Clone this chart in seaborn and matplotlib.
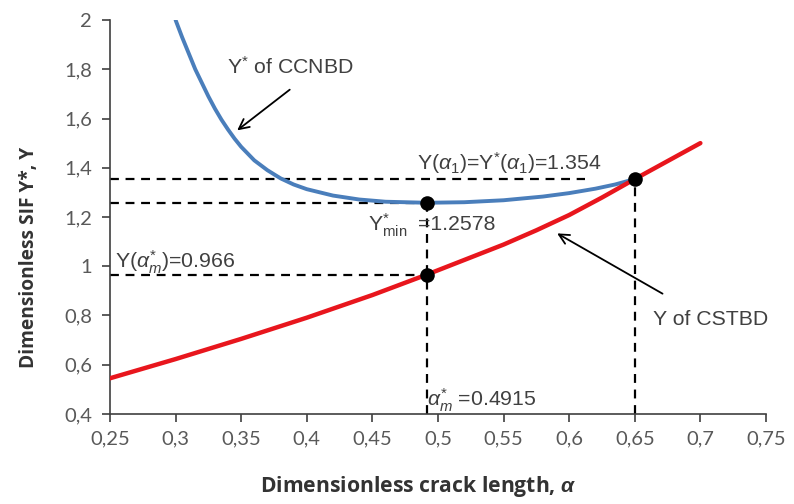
import matplotlib
matplotlib.use("Agg")
import matplotlib.pyplot as plt
import seaborn as sns
import pandas as pd

# ---- data ----
alpha_ccnbd = [0.300, 0.305, 0.310, 0.315, 0.320, 0.325, 0.330, 0.335, 0.340, 0.345, 0.350,
               0.360, 0.370, 0.380, 0.390, 0.400, 0.420, 0.440, 0.460, 0.4915, 0.520,
               0.550, 0.580, 0.600, 0.620, 0.635, 0.650]
y_ccnbd = [2.000, 1.930, 1.865, 1.800, 1.745, 1.690, 1.640, 1.595, 1.555, 1.518, 1.485,
           1.430, 1.390, 1.357, 1.332, 1.313, 1.287, 1.271, 1.262, 1.2578, 1.260,
           1.268, 1.283, 1.297, 1.315, 1.332, 1.354]

alpha_cstbd = [0.25, 0.30, 0.35, 0.40, 0.45, 0.4915, 0.55, 0.575, 0.60, 0.625, 0.65, 0.70]
y_cstbd = [0.545, 0.623, 0.705, 0.791, 0.883, 0.966, 1.088, 1.146, 1.208, 1.279, 1.354, 1.50]

alpha_m = 0.4915
y_min = 1.2578
y_alpha_m = 0.966
alpha_1 = 0.65
y_alpha_1 = 1.354

x_ticks = [0.25, 0.30, 0.35, 0.40, 0.45, 0.50, 0.55, 0.60, 0.65, 0.70, 0.75]
x_ticklabels = ["0,25", "0,3", "0,35", "0,4", "0,45", "0,5", "0,55", "0,6", "0,65", "0,7", "0,75"]
y_ticks = [0.4, 0.6, 0.8, 1.0, 1.2, 1.4, 1.6, 1.8, 2.0]
y_ticklabels = ["0,4", "0,6", "0,8", "1", "1,2", "1,4", "1,6", "1,8", "2"]

sns.set_style("ticks")
plt.rcParams["font.family"] = ["Lato", "DejaVu Sans"]
plt.rcParams["mathtext.fontset"] = "custom"
plt.rcParams["mathtext.rm"] = "Liberation Sans"
plt.rcParams["mathtext.it"] = "Liberation Sans:italic"
plt.rcParams["mathtext.bf"] = "Liberation Sans:bold"
plt.rcParams["mathtext.bfit"] = "Liberation Sans:italic:bold"

fig = plt.figure(figsize=(7.94, 5.04), dpi=100)
ax = fig.add_axes([0.1385, 0.1786, 0.8262, 0.7817])

df_c = pd.DataFrame({"alpha": alpha_ccnbd, "Y": y_ccnbd})
df_s = pd.DataFrame({"alpha": alpha_cstbd, "Y": y_cstbd})

dash_kw = dict(color="black", linestyle=(0, (4, 3)), linewidth=1.6, zorder=2)
# dashed guide lines
ax.plot([0.25, 0.612], [y_alpha_1, y_alpha_1], **dash_kw)
ax.plot([0.25, alpha_m], [y_min, y_min], **dash_kw)
ax.plot([0.25, alpha_m], [y_alpha_m, y_alpha_m], **dash_kw)
ax.plot([alpha_m, alpha_m], [0.4, y_min], **dash_kw)
ax.plot([alpha_1, alpha_1], [0.4, y_alpha_1], **dash_kw)

sns.lineplot(data=df_c, x="alpha", y="Y", ax=ax, color="#4a7ebb", linewidth=2.8, zorder=3)
sns.lineplot(data=df_s, x="alpha", y="Y", ax=ax, color="#e8161d", linewidth=3.2, zorder=3)

ax.scatter([alpha_m, alpha_m, alpha_1], [y_min, y_alpha_m, y_alpha_1],
           s=110, color="black", zorder=5, linewidths=0)

ax.set_xlim(0.25, 0.75)
ax.set_ylim(0.4, 2.0)
ax.set_xticks(x_ticks)
ax.set_xticklabels(x_ticklabels)
ax.set_yticks(y_ticks)
ax.set_yticklabels(y_ticklabels)
ax.tick_params(axis="both", direction="out", length=6, width=1.2, color="#404040",
               labelsize=14.5, labelcolor="#595959")
ax.tick_params(axis="y", pad=7)
ax.tick_params(axis="x", pad=6)
sns.despine(ax=ax)
for s in ["left", "bottom"]:
    ax.spines[s].set_color("#404040")
    ax.spines[s].set_linewidth(1.2)

ax.set_xlabel(r"Dimensionless crack length, $\mathbfit{\alpha}$", fontfamily="Open Sans",
              fontweight="bold", fontsize=15.2, color="#333333")
ax.set_ylabel("Dimensionless SIF Y*, Y", fontfamily="Open Sans",
              fontweight="bold", fontsize=13.8, color="#333333")
ax.xaxis.set_label_coords(0.47, -0.153)
ax.yaxis.set_label_coords(-0.108, 0.398)

tk = dict(fontfamily="Liberation Sans", fontsize=15.3, color="#404040", va="center", ha="left")
ax.text(0.339, 1.809, r"Y$^{*}$ of CCNBD", **tk)
ax.text(0.484, 1.419, r"Y($\alpha_1$)=Y$^{*}$($\alpha_1$)=1.354", **tk)
ax.text(0.4764, 1.1675, r"Y$^{*}_{\rm min}$", **{**tk, "ha": "right"})
ax.text(0.4848, 1.1675, "=1.2578", **tk)
ax.text(0.254, 1.017, r"Y($\alpha^{*}_{m}$)=0.966", **tk)
ax.text(0.4916, 0.457, r"$\alpha^{*}_{m}$ =0.4915", **tk)
ax.text(0.664, 0.782, "Y of CSTBD", **tk)

arrow_kw = dict(arrowstyle="->", color="black", lw=1.3, mutation_scale=18)
ax.annotate("", xy=(0.3453, 1.545), xytext=(0.3887, 1.724), arrowprops=arrow_kw)
ax.annotate("", xy=(0.589, 1.139), xytext=(0.673, 0.883), arrowprops=arrow_kw)

fig.savefig("out.png", dpi=100)
